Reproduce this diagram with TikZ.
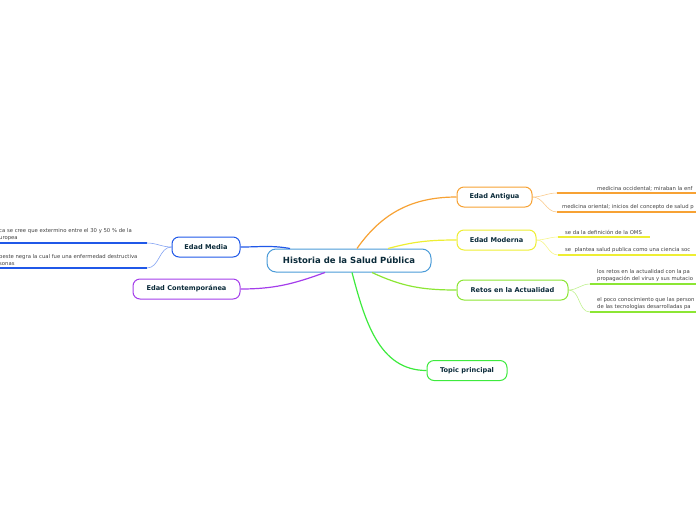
\documentclass[tikz,border=0pt]{standalone}
\usepackage{fontspec}
\setmainfont{DejaVu Sans}
\usetikzlibrary{positioning}
\definecolor{txtdark}{HTML}{0B2B3A}
\definecolor{rootblue}{HTML}{4A9BD8}
\definecolor{antorange}{HTML}{F7A234}
\definecolor{modyellow}{HTML}{EEEE33}
\definecolor{retgreen}{HTML}{8CE634}
\definecolor{topgreen}{HTML}{3DEA3D}
\definecolor{medblue}{HTML}{2058E8}
\definecolor{conpurple}{HTML}{A43DEB}

\begin{document}
\begin{tikzpicture}[x=1pt, y=-1pt, every node/.style={font=\fontsize{6.6}{7.5}\selectfont\bfseries, text=txtdark}, topic/.style={draw, rounded corners=7pt, fill=white, line width=1pt, minimum height=20pt, inner xsep=10pt}, leaf/.style={font=\fontsize{5.3}{6.8}\selectfont, text=black!75, align=left, anchor=south west, inner sep=1pt}, branch/.style={line width=1.2pt}, twig/.style={line width=0.6pt, opacity=0.55}, uline/.style={line width=1.4pt}]
\useasboundingbox (0,0) rectangle (696,520);
% central topic
\node[draw=rootblue, rounded corners=9pt, fill=white, line width=1pt, minimum height=23pt, minimum width=164pt, font=\fontsize{8.5}{9.5}\selectfont\bfseries] (root) at (349,260.5) {Historia de la Salud Pública};
% main topics
\node[topic, draw=antorange, minimum width=75pt] (ant) at (494.5,197) {Edad Antigua};
\node[topic, draw=modyellow, minimum width=79pt] (mod) at (496.5,240) {Edad Moderna};
\node[topic, draw=retgreen, minimum width=111pt] (ret) at (512.5,290) {Retos en la Actualidad};
\node[topic, draw=topgreen, minimum width=80pt] (top) at (467,370.5) {Topic principal};
\node[topic, draw=medblue, minimum width=68pt] (med) at (206,247) {Edad Media};
\node[topic, draw=conpurple, minimum width=107pt] (con) at (186.5,289) {Edad Contemporánea};
\draw[branch, antorange] ([xshift=8pt]root.north) to[out=55, in=180] (ant.west);
\draw[branch, modyellow] ([xshift=39pt]root.north) to[out=15, in=180] (mod.west);
\draw[branch, retgreen] ([xshift=23pt]root.south) to[out=-25, in=180] (ret.west);
\draw[branch, topgreen] ([xshift=3pt]root.south) to[out=-75, in=180] (top.west);
\draw[branch, medblue] ([xshift=-59pt]root.north) to[out=170, in=0] (med.east);
\draw[branch, conpurple] ([xshift=-24pt]root.south) to[out=-160, in=0] (con.east);
% Edad Antigua
\coordinate (a1s) at (557,193); \coordinate (a1e) at (700,193);
\coordinate (a2s) at (557,212); \coordinate (a2e) at (700,212);
\node[leaf] (a1) at (596,192) {medicina occidental; miraban la enf};
\node[leaf] (a2) at (561,211) {medicina oriental; inicios del concepto de salud p};
\draw[uline, antorange] (a1s) -- (a1e);
\draw[uline, antorange] (a2s) -- (a2e);
\draw[twig, antorange] (ant.east) to[out=0, in=180] (a1s);
\draw[twig, antorange] (ant.east) to[out=0, in=180] (a2s);
% Edad Moderna
\coordinate (m1s) at (558,237); \coordinate (m1e) at (650,237);
\coordinate (m2s) at (558,255); \coordinate (m2e) at (700,255);
\node[leaf] (m1) at (564,236) {se da la definición de la OMS};
\node[leaf] (m2) at (564,254) {se\ \ plantea salud publica como una ciencia soc};
\draw[uline, modyellow] (m1s) -- (m1e);
\draw[uline, modyellow] (m2s) -- (m2e);
\draw[twig, modyellow] (mod.east) to[out=0, in=180] (m1s);
\draw[twig, modyellow] (mod.east) to[out=0, in=180] (m2s);
% Retos en la Actualidad
\coordinate (r1s) at (590,284); \coordinate (r1e) at (700,284);
\coordinate (r2s) at (590,312); \coordinate (r2e) at (700,312);
\node[leaf] (r1) at (596,283) {los retos en la actualidad con la pa\\propagación del virus y sus mutacio};
\node[leaf] (r2) at (596,311) {el poco conocimiento que las person\\de las tecnologías desarrolladas pa};
\draw[uline, retgreen] (r1s) -- (r1e);
\draw[uline, retgreen] (r2s) -- (r2e);
\draw[twig, retgreen] (ret.east) to[out=0, in=180] (r1s);
\draw[twig, retgreen] (ret.east) to[out=0, in=180] (r2s);
% Edad Media
\coordinate (e1s) at (147,243); \coordinate (e1e) at (-4,243);
\coordinate (e2s) at (147,268); \coordinate (e2e) at (-4,268);
\node[leaf] (e1) at (-2,242) {ca se cree que extermino entre el 30 y 50 \% de la\\uropea};
\node[leaf] (e2) at (-2,267) {peste negra la cual fue una enfermedad destructiva\\sonas};
\draw[uline, medblue] (e1s) -- (e1e);
\draw[uline, medblue] (e2s) -- (e2e);
\draw[twig, medblue] (med.west) to[out=180, in=0] (e1s);
\draw[twig, medblue] (med.west) to[out=180, in=0] (e2s);
\end{tikzpicture}
\end{document}
